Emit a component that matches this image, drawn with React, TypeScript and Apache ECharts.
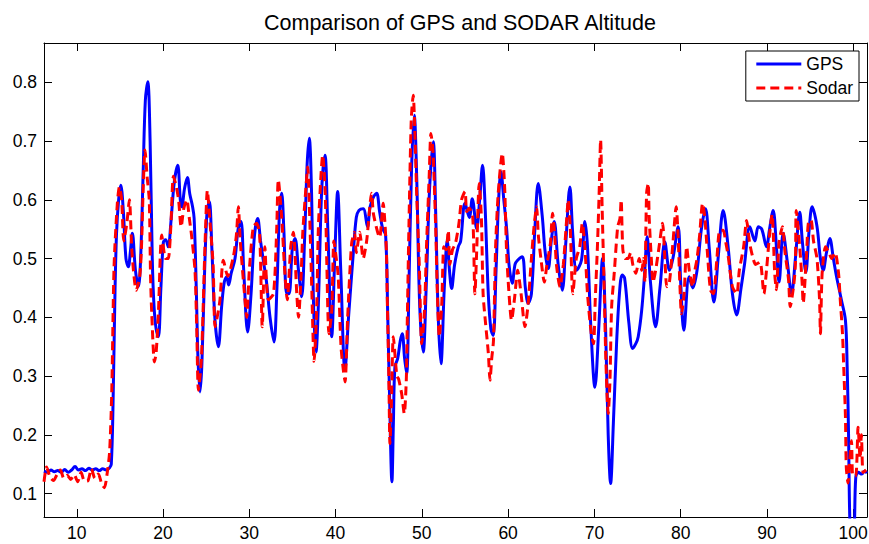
import React, { useEffect, useRef } from "react";
import * as echarts from "echarts";

const titleText = "Comparison of GPS and SODAR Altitude";
const seriesNames = ["GPS", "Sodar"];

const gpsX = [
  6.2, 6.6, 7.0, 7.4, 7.8, 8.2, 8.6, 9.0, 9.4, 9.8, 10.2, 10.6, 11.0, 11.4, 11.8, 12.2, 12.6, 13.0, 13.4, 13.8,
  14.0, 14.2, 14.4, 14.6, 14.85, 15.1, 15.4, 15.7, 15.98, 16.2, 16.44, 16.8, 17.14, 17.4, 17.7, 17.95, 18.23, 18.5,
  18.75, 18.95, 19.2, 19.46, 19.75, 20.04, 20.3, 20.6, 20.9, 21.3, 21.7, 22.0, 22.17, 22.5, 22.82, 23.1, 23.4, 23.6,
  23.85, 24.05, 24.29, 24.5, 24.8, 25.1, 25.37, 25.65, 26.0, 26.41, 26.8, 27.1, 27.38, 27.6, 27.9, 28.34, 28.7, 29.04,
  29.35, 29.81, 30.2, 30.6, 30.97, 31.3, 31.62, 31.97, 32.4, 32.86, 33.2, 33.5, 33.75, 34.0, 34.33, 34.6, 35.0, 35.3,
  35.7, 36.07, 36.4, 36.7, 36.95, 37.2, 37.45, 37.73, 38.0, 38.4, 38.77, 39.1, 39.55, 39.9, 40.24, 40.6, 41.09, 41.5,
  42.05, 42.4, 42.71, 43.2, 43.7, 44.0, 44.4, 44.76, 45.1, 45.46, 45.8, 46.05, 46.25, 46.53, 46.7, 46.88, 47.2, 47.5,
  47.73, 48.0, 48.24, 48.5, 48.8, 49.12, 49.4, 49.75, 50.16, 50.5, 50.9, 51.32, 51.6, 51.9, 52.21, 52.6, 52.94, 53.2,
  53.45, 53.8, 54.22, 54.5, 55.0, 55.5, 55.84, 56.35, 56.7, 57.04, 57.3, 57.7, 58.0, 58.27, 58.6, 58.9, 59.17, 59.5,
  59.83, 60.1, 60.48, 60.8, 61.1, 61.64, 62.0, 62.33, 62.7, 63.1, 63.49, 63.95, 64.3, 64.65, 65.0, 65.34, 65.8, 66.27,
  66.7, 67.16, 67.5, 67.93, 68.5, 68.9, 69.2, 69.6, 70.06, 70.5, 70.95, 71.3, 71.6, 71.88, 72.2, 72.57, 72.9, 73.22,
  73.5, 74.0, 74.43, 74.8, 75.08, 75.47, 75.8, 76.12, 76.5, 77.09, 77.6, 78.17, 78.7, 79.1, 79.71, 80.0, 80.37, 80.98,
  81.4, 81.9, 82.4, 82.88, 83.3, 83.85, 84.4, 84.93, 85.5, 86.0, 86.48, 87.0, 87.4, 88.02, 88.6, 89.0, 89.4, 89.95,
  90.3, 90.72, 91.1, 91.41, 91.88, 92.4, 92.85, 93.3, 93.81, 94.1, 94.51, 94.9, 95.24, 95.8, 96.2, 96.52, 96.9, 97.29,
  97.7, 98.06, 98.64, 99.1, 99.3, 99.46, 99.6, 99.8, 100.1, 100.3, 100.6, 101.0, 101.3, 101.6,
];
const gpsY = [
  0.138, 0.136, 0.14, 0.137, 0.139, 0.136, 0.141, 0.136, 0.14, 0.146, 0.14, 0.142, 0.139, 0.143, 0.14, 0.142, 0.139, 0.142, 0.14, 0.144,
  0.15, 0.25, 0.42, 0.54, 0.6, 0.625, 0.58, 0.5, 0.486, 0.51, 0.543, 0.48, 0.452, 0.5, 0.65, 0.77, 0.801, 0.7,
  0.5, 0.42, 0.38, 0.367, 0.45, 0.528, 0.532, 0.52, 0.56, 0.63, 0.659, 0.6, 0.588, 0.62, 0.638, 0.61, 0.59, 0.569,
  0.45, 0.33, 0.273, 0.32, 0.47, 0.58, 0.597, 0.52, 0.4, 0.35, 0.42, 0.46, 0.469, 0.455, 0.475, 0.5, 0.55, 0.563,
  0.48, 0.375, 0.44, 0.54, 0.568, 0.53, 0.497, 0.463, 0.4, 0.358, 0.45, 0.58, 0.611, 0.55, 0.44, 0.44, 0.52, 0.534,
  0.48, 0.435, 0.53, 0.66, 0.705, 0.62, 0.42, 0.341, 0.42, 0.62, 0.676, 0.55, 0.367, 0.5, 0.614, 0.48, 0.31, 0.4,
  0.509, 0.57, 0.582, 0.585, 0.554, 0.588, 0.605, 0.611, 0.58, 0.551, 0.54, 0.4, 0.27, 0.12, 0.22, 0.316, 0.33, 0.36,
  0.372, 0.33, 0.304, 0.45, 0.65, 0.744, 0.64, 0.42, 0.341, 0.45, 0.62, 0.699, 0.58, 0.4, 0.321, 0.45, 0.531, 0.48,
  0.449, 0.49, 0.52, 0.53, 0.594, 0.57, 0.602, 0.551, 0.6, 0.659, 0.6, 0.44, 0.38, 0.369, 0.48, 0.6, 0.648, 0.6,
  0.55, 0.49, 0.458, 0.49, 0.497, 0.503, 0.45, 0.424, 0.44, 0.55, 0.628, 0.573, 0.51, 0.483, 0.53, 0.563, 0.49, 0.446,
  0.53, 0.622, 0.54, 0.48, 0.497, 0.563, 0.52, 0.38, 0.281, 0.38, 0.5, 0.38, 0.2, 0.117, 0.22, 0.355, 0.44, 0.472,
  0.467, 0.39, 0.347, 0.355, 0.367, 0.41, 0.47, 0.537, 0.46, 0.384, 0.45, 0.528, 0.48, 0.5, 0.554, 0.46, 0.378, 0.469,
  0.45, 0.48, 0.55, 0.585, 0.52, 0.426, 0.51, 0.582, 0.52, 0.44, 0.404, 0.45, 0.49, 0.554, 0.53, 0.554, 0.55, 0.52,
  0.55, 0.582, 0.52, 0.46, 0.543, 0.49, 0.44, 0.5, 0.579, 0.53, 0.477, 0.55, 0.588, 0.555, 0.5, 0.48, 0.51, 0.534,
  0.5, 0.47, 0.429, 0.395, 0.316, 0.202, 0.06, 0.0, 0.03, 0.128, 0.136, 0.133, 0.138, 0.135,
];

const sodarX = [
  6.2, 6.5, 6.9, 7.3, 7.7, 8.1, 8.5, 8.9, 9.3, 9.7, 10.1, 10.5, 10.9, 11.3, 11.7, 12.1, 12.5, 12.9, 13.2, 13.5,
  13.8, 14.05, 14.32, 14.7, 14.94, 15.2, 15.45, 15.8, 16.1, 16.4, 16.9, 17.3, 17.5, 17.7, 17.91, 18.15, 18.4, 18.55,
  18.69, 19.0, 19.2, 19.46, 19.85, 20.3, 20.6, 20.9, 21.2, 21.5, 21.8, 22.1, 22.4, 22.75, 23.05, 23.3, 23.7, 23.9,
  24.1, 24.45, 24.87, 25.14, 25.4, 25.8, 26.03, 26.4, 26.6, 26.99, 27.5, 28.15, 28.5, 28.73, 28.95, 29.5, 29.7, 30.0,
  30.46, 30.85, 31.2, 31.5, 31.8, 32.2, 32.8, 33.17, 33.36, 33.75, 34.1, 34.4, 34.8, 35.1, 35.5, 35.7, 36.0, 36.2,
  36.57, 36.77, 37.0, 37.2, 37.42, 37.5, 37.8, 38.0, 38.3, 38.5, 38.8, 38.97, 39.23, 39.55, 39.8, 40.0, 40.3, 40.63,
  40.9, 41.1, 41.4, 41.86, 42.2, 42.4, 42.8, 43.2, 43.6, 44.18, 44.4, 45.1, 45.52, 45.7, 45.9, 45.98, 46.1, 46.2,
  46.3, 46.5, 46.69, 47.1, 47.3, 47.66, 47.96, 48.2, 48.3, 48.5, 48.77, 49.0, 49.2, 49.4, 49.7, 49.98, 50.3, 50.55,
  50.85, 51.05, 51.3, 51.6, 51.8, 52.02, 52.3, 52.55, 52.8, 53.06, 53.25, 53.55, 53.9, 54.3, 54.6, 55.0, 55.2, 55.5,
  55.9, 56.15, 56.35, 56.65, 56.9, 57.1, 57.39, 57.7, 57.9, 58.1, 58.3, 58.55, 58.85, 59.32, 59.6, 59.8, 60.0, 60.4,
  60.8, 61.1, 61.5, 61.95, 62.3, 62.7, 63.0, 63.3, 63.5, 63.8, 64.2, 64.5, 64.9, 65.15, 65.4, 65.6, 66.0, 66.4,
  66.8, 66.97, 67.2, 67.5, 67.9, 68.3, 68.6, 68.9, 69.2, 69.64, 69.9, 70.1, 70.35, 70.55, 70.72, 70.9, 71.1, 71.33,
  71.6, 71.8, 72.0, 72.3, 72.7, 72.96, 73.1, 73.3, 73.6, 73.9, 74.2, 74.45, 74.8, 75.2, 75.5, 75.7, 75.85, 76.05,
  76.24, 76.35, 76.6, 76.8, 77.1, 77.5, 77.9, 78.17, 78.4, 78.7, 79.1, 79.48, 79.7, 79.9, 80.1, 80.4, 80.7, 81.0,
  81.4, 81.65, 81.9, 82.2, 82.54, 82.8, 83.1, 83.46, 83.8, 84.2, 84.54, 84.93, 85.2, 85.5, 86.0, 86.5, 86.8, 87.3,
  87.64, 88.0, 88.4, 88.7, 89.2, 89.65, 89.95, 90.3, 90.6, 90.9, 91.1, 91.4, 91.8, 92.1, 92.5, 92.7, 93.1, 93.3,
  93.4, 93.8, 94.1, 94.2, 94.6, 94.8, 95.1, 95.4, 95.8, 96.1, 96.2, 96.4, 96.8, 97.2, 97.5, 97.9, 98.3, 98.5,
  98.76, 98.9, 99.1, 99.2, 99.4, 99.6, 99.8, 99.96, 100.3, 100.57, 100.8, 100.95, 101.15, 101.5,
];
const sodarY = [
  0.12, 0.145, 0.128, 0.122, 0.132, 0.14, 0.126, 0.131, 0.124, 0.132, 0.12, 0.136, 0.121, 0.122, 0.142, 0.126, 0.133, 0.116, 0.11, 0.132,
  0.17, 0.27, 0.486, 0.594, 0.622, 0.6, 0.53, 0.56, 0.6, 0.51, 0.446, 0.47, 0.52, 0.62, 0.685, 0.64, 0.6, 0.47,
  0.406, 0.324, 0.34, 0.407, 0.54, 0.5, 0.5, 0.554, 0.64, 0.625, 0.6, 0.554, 0.585, 0.6, 0.568, 0.54, 0.48, 0.384,
  0.276, 0.33, 0.526, 0.616, 0.57, 0.49, 0.384, 0.41, 0.43, 0.497, 0.47, 0.503, 0.54, 0.588, 0.53, 0.429, 0.4, 0.48,
  0.554, 0.56, 0.54, 0.384, 0.52, 0.43, 0.44, 0.548, 0.634, 0.57, 0.48, 0.43, 0.52, 0.545, 0.44, 0.4, 0.47, 0.545,
  0.622, 0.656, 0.57, 0.47, 0.35, 0.325, 0.41, 0.55, 0.64, 0.676, 0.61, 0.5, 0.372, 0.41, 0.53, 0.51, 0.47, 0.35,
  0.31, 0.29, 0.4, 0.526, 0.545, 0.51, 0.545, 0.5, 0.53, 0.611, 0.575, 0.536, 0.594, 0.565, 0.51, 0.44, 0.355, 0.27,
  0.185, 0.27, 0.367, 0.3, 0.295, 0.27, 0.236, 0.295, 0.384, 0.554, 0.736, 0.778, 0.71, 0.61, 0.49, 0.355, 0.41, 0.526,
  0.64, 0.713, 0.68, 0.554, 0.44, 0.367, 0.42, 0.52, 0.515, 0.548, 0.49, 0.515, 0.526, 0.56, 0.6, 0.614, 0.58, 0.586,
  0.57, 0.44, 0.51, 0.628, 0.57, 0.44, 0.389, 0.34, 0.293, 0.33, 0.36, 0.52, 0.611, 0.679, 0.62, 0.52, 0.463, 0.395,
  0.44, 0.48, 0.44, 0.384, 0.42, 0.5, 0.554, 0.588, 0.54, 0.5, 0.46, 0.49, 0.526, 0.577, 0.54, 0.49, 0.452, 0.49,
  0.57, 0.6, 0.554, 0.44, 0.5, 0.52, 0.56, 0.52, 0.44, 0.372, 0.355, 0.43, 0.52, 0.611, 0.702, 0.585, 0.47, 0.327,
  0.236, 0.29, 0.418, 0.475, 0.554, 0.568, 0.6, 0.515, 0.5, 0.5, 0.51, 0.49, 0.475, 0.5, 0.48, 0.5, 0.46, 0.611,
  0.628, 0.57, 0.5, 0.46, 0.48, 0.52, 0.56, 0.5, 0.452, 0.46, 0.526, 0.588, 0.54, 0.46, 0.406, 0.44, 0.52, 0.48,
  0.452, 0.48, 0.5, 0.54, 0.594, 0.57, 0.51, 0.446, 0.44, 0.5, 0.548, 0.548, 0.53, 0.505, 0.452, 0.44, 0.48, 0.52,
  0.565, 0.526, 0.5, 0.49, 0.494, 0.44, 0.48, 0.54, 0.575, 0.475, 0.447, 0.527, 0.554, 0.51, 0.465, 0.418, 0.454, 0.49,
  0.582, 0.52, 0.454, 0.424, 0.51, 0.56, 0.566, 0.53, 0.5, 0.43, 0.372, 0.475, 0.52, 0.51, 0.5, 0.51, 0.475, 0.43,
  0.372, 0.316, 0.232, 0.145, 0.118, 0.157, 0.19, 0.13, 0.13, 0.213, 0.16, 0.2, 0.136, 0.14,
];

const FONT = "'Liberation Sans', Arial, Helvetica, sans-serif";

export default function App() {
  const ref = useRef<HTMLDivElement>(null);

  useEffect(() => {
    if (!ref.current) return;
    const chart = echarts.init(ref.current, null, { renderer: "svg" });

    const lineStyle = { color: "#000", width: 1 };
    const baseX = {
      type: "value",
      min: 6.2,
      max: 101.6,
      minInterval: 10,
      maxInterval: 10,
      axisLine: { show: true, onZero: false, lineStyle },
      axisTick: { show: true, inside: true, length: 8, lineStyle },
      splitLine: { show: false },
    };
    const baseY = {
      type: "value",
      min: 0.06,
      max: 0.867,
      minInterval: 0.1,
      maxInterval: 0.1,
      axisLine: { show: true, onZero: false, lineStyle },
      axisTick: { show: true, inside: true, length: 8, lineStyle },
      splitLine: { show: false },
    };
    const labelStyle = { color: "#000", fontSize: 17.5, fontFamily: FONT, showMinLabel: false, showMaxLabel: false };

    chart.setOption({
      animation: false,
      backgroundColor: "#ffffff",
      title: {
        text: titleText,
        left: 455,
        top: 7,
        textAlign: "center",
        textStyle: { fontSize: 21.5, fontWeight: "normal", color: "#000", fontFamily: FONT },
      },
      legend: {
        orient: "vertical",
        right: 10,
        top: 51,
        backgroundColor: "#ffffff",
        borderColor: "#000",
        borderWidth: 1,
        borderRadius: 0,
        padding: [4, 6, 4, 9],
        itemWidth: 45,
        itemHeight: 12,
        itemGap: 6,
        align: "left",
        itemStyle: { color: "rgba(0,0,0,0)", borderWidth: 0, opacity: 0 },
        textStyle: { fontSize: 17.5, fontFamily: FONT, color: "#000" },
        data: [
          { name: seriesNames[0], lineStyle: { color: "#0000ff", width: 3, type: "solid" } },
          { name: seriesNames[1], lineStyle: { color: "#ff0000", width: 3, type: [9, 5] } },
        ],
      },
      grid: { left: 44, right: 2, top: 43, bottom: 27, containLabel: false, outerBoundsMode: "none" },
      xAxis: [
        { ...baseX, position: "bottom", axisLabel: { ...labelStyle, margin: 7 } },
        { ...baseX, position: "top", axisLabel: { show: false } },
      ],
      yAxis: [
        {
          ...baseY,
          position: "left",
          axisLabel: { ...labelStyle, margin: 7, formatter: (v: number) => v.toFixed(1) },
        },
        { ...baseY, position: "right", axisLabel: { show: false } },
      ],
      series: [
        {
          name: seriesNames[0],
          type: "line",
          xAxisIndex: 0,
          yAxisIndex: 0,
          data: gpsX.map((x, i) => [x, gpsY[i]]),
          symbol: "none",
          showSymbol: false,
          smooth: 0.35,
          clip: true,
          lineStyle: { color: "#0000ff", width: 3 },
          itemStyle: { color: "#0000ff" },
          z: 2,
        },
        {
          name: seriesNames[1],
          type: "line",
          xAxisIndex: 0,
          yAxisIndex: 0,
          data: sodarX.map((x, i) => [x, sodarY[i]]),
          symbol: "none",
          showSymbol: false,
          smooth: 0.25,
          clip: true,
          lineStyle: { color: "#ff0000", width: 3, type: [9, 5] },
          itemStyle: { color: "#ff0000" },
          z: 3,
        },
      ],
    });

    return () => chart.dispose();
  }, []);

  return (
    <div
      ref={ref}
      style={{ position: "fixed", left: 0, top: 0, width: 869, height: 544, background: "#fff" }}
    />
  );
}
